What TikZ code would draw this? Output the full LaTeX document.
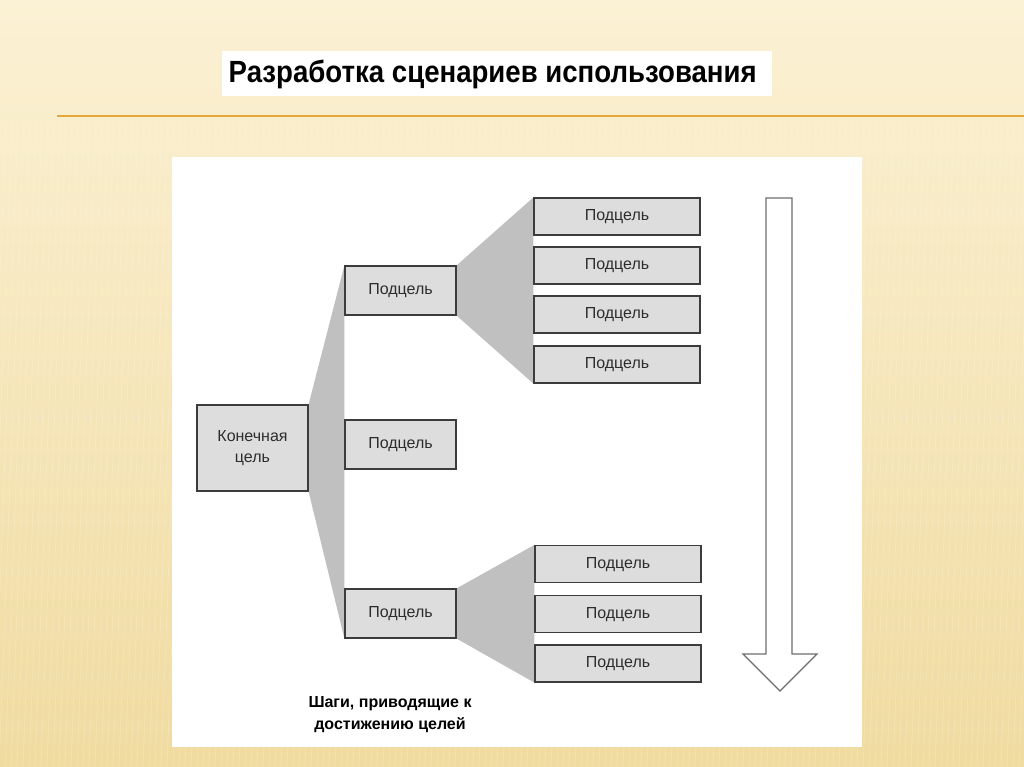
\documentclass[tikz,border=0pt]{standalone}
\usepackage{fontspec}
\setmainfont{Liberation Sans}
\newfontfamily\titlefont[FakeStretch=0.9]{Liberation Sans}
\usetikzlibrary{positioning}
\definecolor{papertop}{RGB}{251,241,212}
\definecolor{paperbot}{RGB}{240,219,160}
\definecolor{rule}{RGB}{228,168,62}
\definecolor{boxfill}{RGB}{221,221,221}
\definecolor{boxline}{RGB}{60,60,60}
\definecolor{boxtext}{RGB}{45,45,45}
\definecolor{fangray}{RGB}{192,192,192}
\definecolor{arrowline}{RGB}{110,110,110}
\pgfdeclarelayer{back}
\pgfdeclarelayer{fans}
\pgfsetlayers{back,fans,main}
\tikzset{
  goalbox/.style={draw=boxline, fill=boxfill, line width=0.9pt, text=boxtext, inner sep=0pt, font=\fontsize{12}{15.75}\selectfont},
  sub/.style={goalbox, minimum width=83.25pt, minimum height=36.75pt, text height=8.6pt, text depth=2.2pt},
  leaf/.style={sub, minimum width=124.5pt, minimum height=27.75pt},
  fan/.style={fill=fangray}
}
\begin{document}
\begin{tikzpicture}[x=0.75pt,y=-0.75pt]
\useasboundingbox (0,0) rectangle (1024,767);
\begin{pgfonlayer}{back}
\shade[top color=papertop, bottom color=paperbot] (0,0) rectangle (1024,767);
\begin{scope}
\clip (0,0) rectangle (1024,767);
\foreach \x in {0,6,...,1050} \draw[white, opacity=0.2, line width=0.5pt] (\x,120) -- (\x-25,767);
\end{scope}
\fill[white] (222,51) rectangle (772,96);
\draw[rule, line width=1.5pt] (57,116) -- (1024,116);
\fill[white] (172,157) rectangle (862,747);
\end{pgfonlayer}
% title
\node[font=\titlefont\bfseries\fontsize{23}{26}\selectfont, anchor=west] (title) at (224,74) {Разработка сценариев использования};
% goals
\node[goalbox, minimum width=83.25pt, minimum height=64.5pt, align=center] (goal) at (252.5,448) {Конечная\\цель};
\node[sub] (s1) at (400.5,290.5) {Подцель};
\node[sub] (s2) at (400.5,444.5) {Подцель};
\node[sub] (s3) at (400.5,613.5) {Подцель};
\foreach \y [count=\i] in {216.5,265.5,314.5,364.5} \node[leaf] (a\i) at (617,\y) {Подцель};
\foreach \y [count=\i] in {564,614,663.5} \node[leaf] (b\i) at (618,\y) {Подцель};
\begin{pgfonlayer}{fans}
\fill[fan] (goal.north east) -- (s1.north west) -- (s3.south west) -- (goal.south east) -- cycle;
\fill[fan] (s1.north east) -- (a1.north west) -- (a4.south west) -- (s1.south east) -- cycle;
\fill[fan] (s3.north east) -- (b1.north west) -- (b3.south west) -- (s3.south east) -- cycle;
\end{pgfonlayer}
% big arrow
\draw[arrowline, fill=white, line width=0.9pt] (766,198) -- (792,198) -- (792,654) -- (817,654) -- (780,691) -- (743,654) -- (766,654) -- cycle;
\node[font=\bfseries\fontsize{12}{16.5}\selectfont, align=center] (steps) at (390,715) {Шаги, приводящие к\\достижению целей};
\end{tikzpicture}
\end{document}
